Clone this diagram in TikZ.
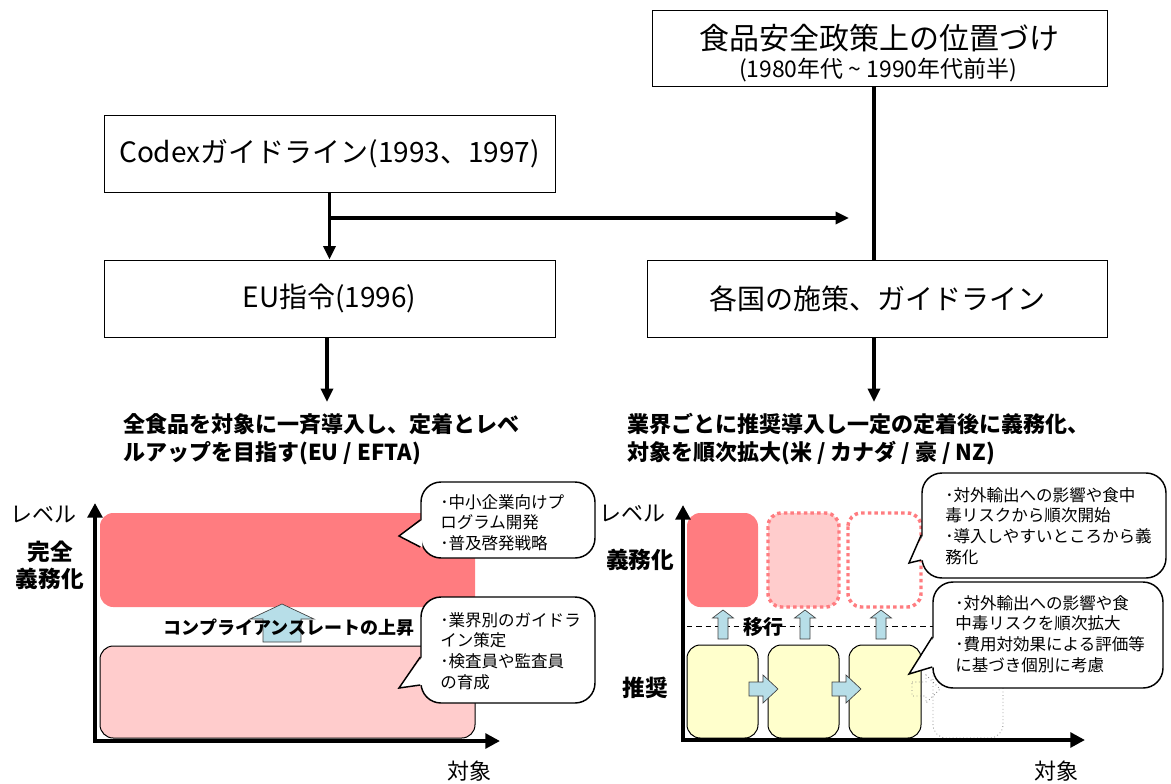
\documentclass[tikz,border=0pt]{standalone}
\usepackage{fontspec}
\setmainfont{Noto Sans CJK JP}
\usetikzlibrary{arrows.meta}
\definecolor{redc}{HTML}{FF7C80}
\definecolor{pinkc}{HTML}{FFCCCC}
\definecolor{yelc}{HTML}{FFFFCC}
\definecolor{bluec}{HTML}{B7DEE8}
\begin{document}
\begin{tikzpicture}[x=0.75pt,y=-0.75pt,
  box/.style={draw, line width=0.75pt, fill=white, inner sep=0, align=center, font=\fontsize{21}{24}\selectfont},
  conn/.style={line width=2.4pt},
  arr/.style={conn, -{Triangle[length=10pt,width=9pt]}},
  axis/.style={line width=3pt, line join=miter, {Triangle[length=11pt,width=11pt]}-{Triangle[length=11pt,width=11pt]}},
  callbox/.style={draw, line width=1.1pt, fill=white, rounded corners=15pt, inner sep=0},
  wedge/.style={line width=1.1pt, line join=miter},
  hd/.style={font=\fontsize{16.5}{21}\selectfont\bfseries, align=left, inner sep=0, anchor=west},
  ct/.style={font=\fontsize{12.4}{15.5}\selectfont, align=left, inner sep=0, anchor=north west},
  lbl/.style={font=\fontsize{16.5}{20}\selectfont, inner sep=0},
  blbl/.style={font=\fontsize{17}{20}\selectfont\bfseries, inner sep=0, align=center},
  barrow/.style={fill=bluec, draw=black!75, line width=0.5pt},
  dotbox/.style={draw=redc, line width=2.6pt, dash pattern=on 2.6pt off 2.4pt, rounded corners=10pt},
  ybox/.style={fill=yelc, draw=black, line width=0.75pt, rounded corners=10pt}
]
\useasboundingbox (0,0) rectangle (1171,783);

% ---------- top flow ----------
\node[box, minimum width=341.25pt, minimum height=57pt] (top) at (879.5,48) {};
\node[inner sep=0, font=\fontsize{22.5}{26}\selectfont] (t1) at (879.5,38) {食品安全政策上の位置づけ};
\node[inner sep=0, font=\fontsize{17.2}{20}\selectfont] (t2) at (878,70) {(1980年代 \textasciitilde{} 1990年代前半)};

\node[box, minimum width=338.25pt, minimum height=57.75pt] (codex) at (329.5,153.5) {Codexガイドライン(1993、1997)};
\node[box, minimum width=338.25pt, minimum height=57.75pt] (eu) at (329.5,298.5) {EU指令(1996)};
\node[box, minimum width=345pt, minimum height=57.75pt] (kk) at (877,298.5) {各国の施策、ガイドライン};

\draw[arr] (codex.south) -- (eu.north);
\coordinate (br) at (329.5,218);
\coordinate (brend) at (849,218);
\draw[arr] (br) -- (brend);
\draw[conn] ([xshift=-4.1pt]top.south) -- ([xshift=-4.1pt]top.south |- kk.north);
\coordinate (rh) at (874,402);
\coordinate (lh) at (327,402);
\draw[arr] (kk.south -| rh) -- (rh);
\draw[arr] (eu.south -| lh) -- (lh);

\node[hd] (hl) at (123,439) {全食品を対象に一斉導入し、定着とレベ\\ルアップを目指す(EU / EFTA)};
\node[hd] (hr) at (627,439) {業界ごとに推奨導入し一定の定着後に義務化、\\対象を順次拡大(米 / カナダ / 豪 / NZ)};

% ---------- left chart ----------
\begin{scope}
\clip (95,500) rectangle (475,620);
\fill[redc, rounded corners=10pt] (100,513) rectangle (520,607);
\end{scope}
\draw[fill=pinkc, draw=black, line width=0.75pt, rounded corners=10pt] (100,646) rectangle (475,738);
\draw[barrow] (263,642) -- (263,619) -- (250,619) -- (282,604) -- (314,619) -- (301,619) -- (301,642) -- cycle;
\node[inner sep=0, font=\fontsize{13.5}{16}\selectfont\bfseries] (rate) at (289,628) {コンプライアンスレートの上昇};

\coordinate (LY) at (95,503);
\coordinate (LO) at (95,741);
\coordinate (LX) at (500,741);
\draw[axis] (LY) -- (LO) -- (LX);
\node[lbl] (lv1) at (43,515) {レベル};
\node[blbl] (kz) at (50,552) {完全};
\node[blbl] (gm1) at (50,579) {義務化};
\node[lbl] (tz1) at (469,771) {対象};

% callout 1
\node[callbox, minimum width=130.5pt, minimum height=57pt] (c1) at (508,520) {};
\fill[white] ([xshift=1.5pt]c1.west) -- (399,536) -- ([xshift=1.5pt,yshift=-20.25pt]c1.west) -- cycle;
\draw[wedge] (c1.west) -- (399,536) -- ([yshift=-20.25pt]c1.west);
\node[ct] (c1t) at (440,494) {･中小企業向けプ\\ログラム開発\\･普及啓発戦略};
% callout 2
\node[callbox, minimum width=130.5pt, minimum height=79.5pt] (c2) at (508,650) {};
\fill[white] ([xshift=1.5pt,yshift=-5.25pt]c2.west) -- (399,688) -- ([xshift=1.5pt,yshift=-26.25pt]c2.west) -- cycle;
\draw[wedge] ([yshift=-5.25pt]c2.west) -- (399,688) -- ([yshift=-26.25pt]c2.west);
\node[ct] (c2t) at (440,612) {･業界別のガイドラ\\イン策定\\･検査員や監査員\\の育成};

% ---------- right chart ----------
\fill[redc, rounded corners=10pt] (687,513) rectangle (758,607);
\fill[pinkc, rounded corners=10pt] (768,513) rectangle (839,607);
\draw[dotbox] (768,513) rectangle (839,607);
\draw[dotbox] (848,513) rectangle (921,607);

\draw[line width=0.75pt, dash pattern=on 4pt off 3pt] (687,626) -- (935,626);

\foreach \u in {723,805,881}
  \draw[barrow] (\u-5,639) -- (\u-5,618) -- (\u-10.5,618) -- (\u,610) -- (\u+10.5,618) -- (\u+5,618) -- (\u+5,639) -- cycle;
\node[inner sep=0, font=\fontsize{15}{18}\selectfont\bfseries] (ik) at (763,627) {移行};

\draw[ybox] (687,645) rectangle (758,738);
\draw[ybox] (768,645) rectangle (839,738);
\draw[ybox] (849,645) rectangle (921,738);
\foreach \u in {749,832}
  \draw[barrow] (\u,682) -- (\u+14,682) -- (\u+14,675) -- (\u+29,689) -- (\u+14,703) -- (\u+14,696) -- (\u,696) -- cycle;
\draw[gray, line width=0.6pt, dotted] (912,682) -- (926,682) -- (926,675) -- (940,689) -- (926,703) -- (926,696) -- (912,696) -- cycle;
\draw[gray, line width=0.6pt, dotted, rounded corners=10pt] (933,645) rectangle (1003,738);

\coordinate (RY) at (683,505);
\coordinate (RO) at (683,740);
\coordinate (RX) at (1085,740);
\draw[axis] (RY) -- (RO) -- (RX);
\node[lbl] (lv2) at (632,514) {レベル};
\node[blbl] (gm2) at (640,560) {義務化};
\node[blbl] (sy) at (645,688) {推奨};
\node[lbl] (tz2) at (1056,771) {対象};

% callout 3
\node[callbox, minimum width=183pt, minimum height=78.75pt] (c3) at (1044,525.5) {};
\fill[white] ([xshift=1.5pt,yshift=-7.1pt]c3.west) -- (909,563) -- ([xshift=1.5pt,yshift=-25.9pt]c3.west) -- cycle;
\draw[wedge] ([yshift=-7.1pt]c3.west) -- (909,563) -- ([yshift=-25.9pt]c3.west);
\node[ct] (c3t) at (945,487) {･対外輸出への影響や食中\\毒リスクから順次開始\\･導入しやすいところから義\\務化};
% callout 4
\node[callbox, minimum width=172.5pt, minimum height=79.5pt] (c4) at (1048,635) {};
\fill[white] ([xshift=1.5pt,yshift=-1.5pt]c4.west) -- (909,674) -- ([xshift=1.5pt,yshift=-24pt]c4.west) -- cycle;
\draw[wedge] ([yshift=-1.5pt]c4.west) -- (909,674) -- ([yshift=-24pt]c4.west);
\node[ct] (c4t) at (955,595) {･対外輸出への影響や食\\中毒リスクを順次拡大\\･費用対効果による評価等\\に基づき個別に考慮};
\end{tikzpicture}
\end{document}
